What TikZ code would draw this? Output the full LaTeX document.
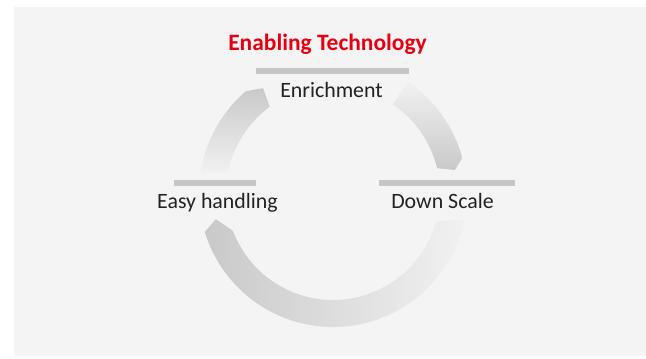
\documentclass[tikz,border=0pt]{standalone}
\usepackage{fontspec}
\setmainfont{Carlito}
\usetikzlibrary{calc}
\definecolor{bg}{HTML}{F4F4F4}
\definecolor{barc}{HTML}{C6C6C6}
\definecolor{fjred}{HTML}{E60012}
\definecolor{txt}{HTML}{222222}
\definecolor{arcdark}{HTML}{C9C9C9}
\definecolor{arcmid}{HTML}{D6D6D6}
\definecolor{arclight}{HTML}{F1F1F1}
\begin{document}
\begin{tikzpicture}[x=0.75pt,y=0.75pt,
  lbl/.style={font=\fontsize{16.4}{19}\selectfont, text=txt, inner sep=0pt, anchor=base},
  headline/.style={font=\bfseries\fontsize{17.6}{20}\selectfont, text=fjred, inner sep=0pt, anchor=base},
  barline/.style={fill=barc, draw=none}]
\useasboundingbox (0,0) rectangle (646,358);
\fill[bg] (14,2) rectangle (646,351);
\coordinate (c) at (333,165);
\def\Ro{100.5pt}
\def\Ri{80.25pt}
% bottom arc (head at left)
\shade[left color=arcdark, right color=arclight]
  ($(c)+(-11.6:\Ro)$) arc[start angle=-11.6, end angle=-163.1, radius=\Ro]
  -- ($(c)+(-167.4:90pt)$) -- ($(c)+(-159.2:\Ri)$)
  arc[start angle=-159.2, end angle=-15.3, radius=\Ri] -- cycle;
% top-left arc (head at top)
\shade[top color=arcdark, bottom color=arclight]
  ($(c)+(171:\Ro)$) arc[start angle=171, end angle=130.6, radius=\Ro]
  -- ($(c)+(123.7:94.5pt)$) -- ($(c)+(126.3:\Ri)$)
  arc[start angle=126.3, end angle=169, radius=\Ri] -- cycle;
% top-right arc (head at bottom right)
\shade[top color=arclight, bottom color=arcdark]
  ($(c)+(56:\Ro)$) arc[start angle=56, end angle=15.2, radius=\Ro]
  -- ($(c)+(10.7:93pt)$) -- ($(c)+(13.4:\Ri)$)
  arc[start angle=13.4, end angle=56, radius=\Ri] -- cycle;
% bars
\fill[barline] (256,284) rectangle (409,290);
\fill[barline] (174,172) rectangle (256,178);
\fill[barline] (379,172) rectangle (515,178);
% texts
\node[headline] (head) at (327.5,307) {Enabling Technology};
\node[lbl] (enr) at (331.5,261) {Enrichment};
\node[lbl] (easy) at (217.5,150) {Easy handling};
\node[lbl] (down) at (442.5,150) {Down Scale};
\end{tikzpicture}
\end{document}
